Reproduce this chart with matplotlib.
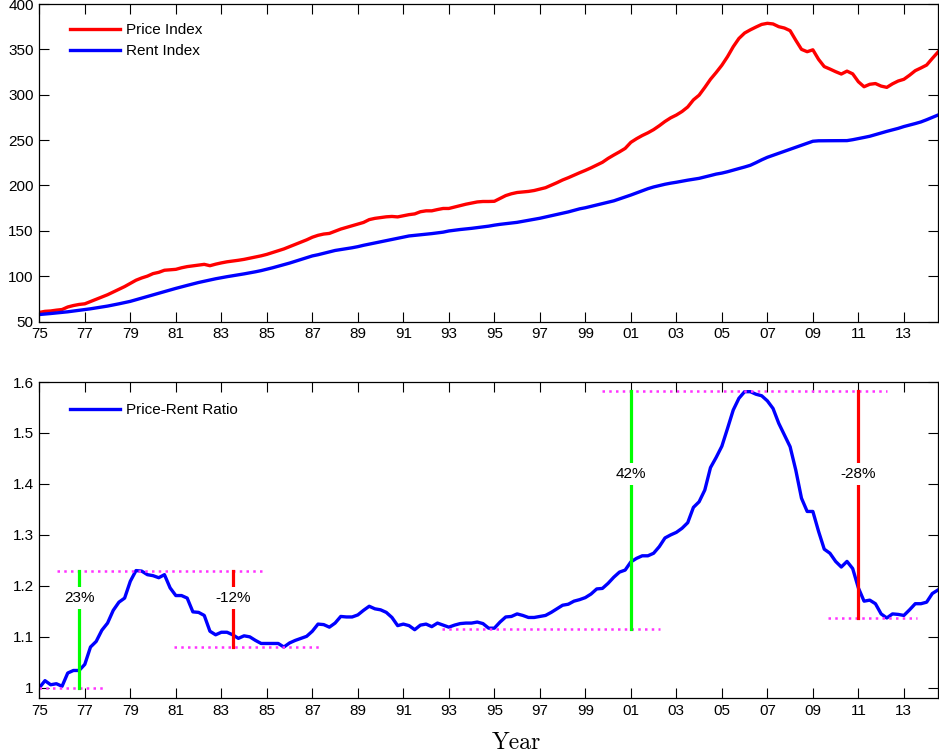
import numpy as np
import matplotlib
matplotlib.use("Agg")
import matplotlib.pyplot as plt

plt.rcParams['font.family'] = ['Liberation Sans', 'DejaVu Sans']

# quarterly, 1975Q1 .. 2014Q3
years = np.arange(159) * 0.25 + 1975.0

price = [60.0, 61.2, 61.6, 62.5, 63.2, 66.0, 67.6, 68.8,
         69.5, 72.0, 74.5, 77.0, 79.5, 82.5, 85.5, 88.5,
         92.0, 95.5, 98.0, 100.0, 102.8, 104.2, 106.5, 107.0,
         107.5, 109.2, 110.5, 111.3, 112.0, 113.0, 111.5, 113.2,
         114.6, 115.8, 116.6, 117.5, 118.5, 119.8, 121.0, 122.4,
         124.0, 126.0, 128.0, 130.0, 132.5, 135.0, 137.5, 140.0,
         142.9, 145.0, 146.4, 147.1, 149.5, 151.9, 153.7, 155.5,
         157.4, 159.2, 162.3, 163.7, 164.6, 165.4, 165.8, 165.3,
         166.6, 167.8, 168.6, 171.0, 172.0, 172.0, 173.4, 174.6,
         174.6, 176.2, 177.9, 179.3, 180.6, 181.8, 182.3, 182.3,
         182.5, 185.6, 188.8, 190.8, 192.2, 192.8, 193.4, 194.4,
         196.0, 197.5, 200.2, 203.0, 206.0, 208.5, 211.3, 214.0,
         216.6, 219.4, 222.4, 225.5, 229.8, 233.5, 237.0, 240.8,
         247.5, 251.5, 255.0, 258.0, 261.5, 265.8, 270.5, 274.5,
         277.6, 281.5, 286.5, 294.3, 299.5, 308.0, 317.0, 324.5,
         332.5, 342.0, 352.9, 362.0, 368.0, 371.5, 374.6, 377.5,
         378.7, 378.0, 375.0, 373.5, 370.6, 360.0, 350.0, 347.4,
         349.5, 339.0, 331.0, 328.3, 325.4, 322.8, 326.0, 323.0,
         314.3, 308.8, 311.5, 312.3, 309.5, 308.1, 312.0, 315.1,
         317.0, 321.5, 326.5, 329.5, 332.7, 340.0, 347.0]

rent = [57.7, 58.2, 58.8, 59.4, 60.0, 60.7, 61.5, 62.3,
        63.1, 64.0, 65.0, 66.0, 67.0, 68.2, 69.5, 70.8,
        72.2, 74.0, 75.8, 77.6, 79.4, 81.2, 83.0, 84.8,
        86.5, 88.2, 89.8, 91.4, 93.0, 94.4, 95.8, 97.1,
        98.3, 99.4, 100.4, 101.4, 102.5, 103.6, 104.8, 106.1,
        107.6, 109.2, 110.9, 112.6, 114.4, 116.4, 118.4, 120.4,
        122.3, 123.6, 125.2, 126.9, 128.3, 129.3, 130.3, 131.3,
        132.5, 134.0, 135.3, 136.5, 137.9, 139.2, 140.5, 141.8,
        143.2, 144.3, 145.0, 145.6, 146.2, 146.9, 147.7, 148.5,
        149.8, 150.6, 151.4, 152.0, 152.7, 153.5, 154.4, 155.1,
        156.2, 157.1, 157.8, 158.5, 159.3, 160.4, 161.5, 162.6,
        163.8, 165.2, 166.6, 167.9, 169.3, 170.8, 172.5, 174.2,
        175.4, 176.9, 178.3, 179.8, 181.3, 183.0, 185.1, 187.1,
        189.4, 191.7, 194.1, 196.4, 198.3, 199.8, 201.3, 202.5,
        203.5, 204.7, 205.8, 206.8, 207.8, 209.3, 210.9, 212.5,
        213.6, 215.1, 216.9, 218.6, 220.3, 222.2, 225.1, 228.2,
        231.0, 233.2, 235.3, 237.5, 239.8, 242.0, 244.2, 246.5,
        248.7, 249.2, 249.3, 249.3, 249.3, 249.3, 249.4, 250.4,
        251.6, 252.9, 254.2, 256.0, 257.8, 259.6, 261.2, 262.9,
        264.9, 266.5, 268.2, 270.0, 272.4, 275.0, 277.6]

ratio = [1.000, 1.014, 1.006, 1.008, 1.003, 1.029, 1.034, 1.034,
         1.046, 1.080, 1.091, 1.113, 1.127, 1.152, 1.168, 1.176,
         1.209, 1.230, 1.229, 1.222, 1.220, 1.216, 1.222, 1.196,
         1.181, 1.181, 1.176, 1.149, 1.148, 1.142, 1.111, 1.104,
         1.109, 1.109, 1.104, 1.097, 1.102, 1.100, 1.093, 1.087,
         1.087, 1.087, 1.087, 1.080, 1.088, 1.093, 1.097, 1.101,
         1.111, 1.125, 1.124, 1.119, 1.127, 1.140, 1.139, 1.139,
         1.143, 1.152, 1.160, 1.155, 1.153, 1.148, 1.138, 1.122,
         1.125, 1.122, 1.114, 1.123, 1.125, 1.120, 1.127, 1.123,
         1.119, 1.123, 1.126, 1.127, 1.127, 1.129, 1.126, 1.117,
         1.117, 1.129, 1.139, 1.140, 1.145, 1.142, 1.138, 1.138,
         1.140, 1.142, 1.148, 1.155, 1.162, 1.164, 1.170, 1.173,
         1.177, 1.184, 1.194, 1.195, 1.205, 1.217, 1.227, 1.231,
         1.247, 1.254, 1.259, 1.259, 1.264, 1.277, 1.294, 1.300,
         1.305, 1.313, 1.324, 1.354, 1.365, 1.388, 1.432, 1.452,
         1.474, 1.509, 1.545, 1.568, 1.581, 1.581, 1.576, 1.573,
         1.563, 1.548, 1.519, 1.496, 1.473, 1.427, 1.372, 1.346,
         1.346, 1.307, 1.272, 1.264, 1.248, 1.237, 1.248, 1.234,
         1.196, 1.170, 1.172, 1.165, 1.145, 1.137, 1.145, 1.144,
         1.142, 1.153, 1.165, 1.165, 1.168, 1.185, 1.192]

# swing annotations: year of bar, low, high, label
swing_x = [1976.75, 1983.5, 2001.0, 2011.0]
swing_lo = [1.0, 1.08, 1.115, 1.137]
swing_hi = [1.23, 1.23, 1.582, 1.582]
swing_lbl = ['23%', '-12%', '42%', '-28%']
swing_col = ['#00ff00', '#ff0000', '#00ff00', '#ff0000']
swing_txt_y = [1.176, 1.176, 1.419, 1.419]

# dotted reference levels: level, start, end
ref_y = [1.0, 1.23, 1.08, 1.115, 1.582, 1.137]
ref_x0 = [1975.0, 1975.76, 1980.94, 1992.68, 1999.72, 2009.68]
ref_x1 = [1977.83, 1984.8, 1987.3, 2002.28, 2012.28, 2013.57]

xticks = list(range(1975, 2014, 2))
xtick_lbl = ['%02d' % (t % 100) for t in xticks]

fig = plt.figure(figsize=(9.39, 7.56), dpi=100)
ax1 = fig.add_axes([39.3 / 939, 1 - 321.5 / 756, 898.7 / 939, 317.5 / 756])
ax2 = fig.add_axes([39.3 / 939, 1 - 698 / 756, 898.7 / 939, 316 / 756])

ax1.plot(years, price, color='#ff0000', lw=2.4, label='Price Index')
ax1.plot(years, rent, color='#0000ff', lw=2.4, label='Rent Index')
ax1.set_ylim(50, 400)
ax1.set_yticks(range(50, 401, 50))

ax2.plot(years, ratio, color='#0000ff', lw=2.4, label='Price-Rent Ratio')
for y, a, b in zip(ref_y, ref_x0, ref_x1):
    ax2.plot([a, b], [y, y], color='#ff33ff', lw=1.8, ls=(0, (1, 1.7)))
for x, lo, hi, lbl, c, ty in zip(swing_x, swing_lo, swing_hi, swing_lbl, swing_col, swing_txt_y):
    ax2.plot([x, x], [lo, hi], color=c, lw=2.3)
    ax2.text(x, ty, lbl, ha='center', va='center', fontsize=11,
             bbox=dict(facecolor='white', edgecolor='none', pad=3))
ax2.set_ylim(0.98, 1.6)
ax2.set_yticks([1.0, 1.1, 1.2, 1.3, 1.4, 1.5, 1.6])
ax2.set_yticklabels(['1', '1.1', '1.2', '1.3', '1.4', '1.5', '1.6'])

legend_y = {ax1: 0.959, ax2: 0.952}
for ax in (ax1, ax2):
    ax.set_xlim(1975, 2014.5)
    ax.set_xticks(xticks)
    ax.set_xticklabels(xtick_lbl)
    ax.tick_params(direction='in', length=7, width=0.8, top=True, right=True,
                   labelsize=11, pad=4)
    for s in ax.spines.values():
        s.set_linewidth(0.9)
    ax.legend(loc='upper left', bbox_to_anchor=(0.027, legend_y[ax]), frameon=False,
              fontsize=11, handlelength=3.3, handletextpad=0.4,
              labelspacing=0.45, borderaxespad=0)

fig.text(516 / 939, 1 - 743 / 756, 'Year', family='cmr10', fontsize=17,
         ha='center', va='center')

fig.savefig('out.png', dpi=100)
